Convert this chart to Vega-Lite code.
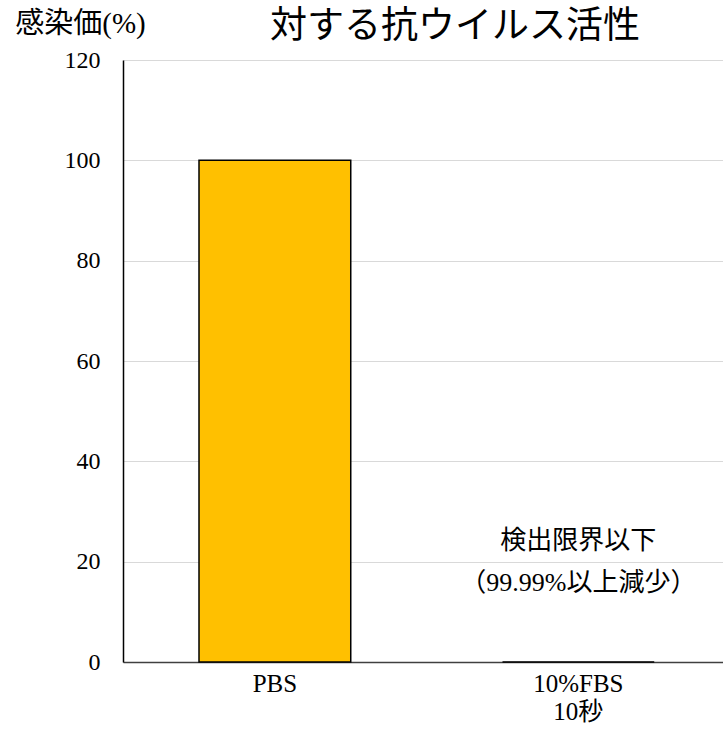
{
  "$schema": "https://vega.github.io/schema/vega-lite/v6.json",
  "autosize": {"type": "none"},
  "width": 600,
  "height": 602,
  "padding": {"left": 123, "top": 60, "right": 0, "bottom": 76},
  "background": "white",
  "config": {
    "view": {"stroke": null},
    "font": "Liberation Serif, Noto Sans CJK JP"
  },
  "title": {
    "text": "対する抗ウイルス活性",
    "font": "Noto Sans CJK JP",
    "fontSize": 37,
    "fontWeight": "normal",
    "color": "#000000",
    "anchor": "middle",
    "frame": "group",
    "baseline": "bottom",
    "dx": 32,
    "dy": 74,
    "offset": 0
  },
  "data": {
    "values": [
      {"group": "PBS", "value": 100, "note": null},
      {"group": "10%FBS|10秒", "value": 0, "note": ["検出限界以下", "（99.99%以上減少）"]}
    ]
  },
  "layer": [
    {
      "mark": {"type": "bar", "color": "#FFC000", "stroke": "#000000", "strokeWidth": 1.5},
      "encoding": {
        "x": {
          "field": "group",
          "type": "nominal",
          "sort": null,
          "scale": {"paddingInner": 0.5, "paddingOuter": 0.2385, "align": 0.525},
          "axis": {
            "title": null,
            "labelAngle": 0,
            "labelExpr": "split(datum.label, '|')",
            "labelFont": "Liberation Serif, Noto Sans CJK JP",
            "labelFontSize": 25,
            "labelColor": "#000000",
            "labelLineHeight": 28,
            "labelPadding": 9,
            "labelBaseline": "top",
            "ticks": false,
            "domainColor": "#404040",
            "domainWidth": 1.5
          }
        },
        "y": {
          "field": "value",
          "type": "quantitative",
          "scale": {"domain": [0, 120]},
          "axis": {
            "values": [0, 20, 40, 60, 80, 100, 120],
            "title": "感染価(%)",
            "titleAngle": 0,
            "titleAlign": "center",
            "titleBaseline": "middle",
            "titleX": -43,
            "titleY": -37,
            "titleFont": "Liberation Serif, Noto Sans CJK JP",
            "titleFontSize": 29,
            "titleFontWeight": "normal",
            "titleColor": "#000000",
            "labelFont": "Liberation Serif",
            "labelFontSize": 24,
            "labelColor": "#000000",
            "labelPadding": 23,
            "ticks": false,
            "domainColor": "#000000",
            "domainWidth": 1.5,
            "gridColor": "#d9d9d9",
            "gridWidth": 1
          }
        }
      }
    },
    {
      "transform": [{"filter": "datum.note != null"}],
      "mark": {
        "type": "text",
        "font": "Liberation Serif, Noto Sans CJK JP",
        "fontSize": 26,
        "color": "#000000",
        "baseline": "middle",
        "align": "center",
        "lineHeight": 42
      },
      "encoding": {
        "x": {"field": "group", "type": "nominal", "sort": null},
        "y": {"datum": 24.2, "type": "quantitative"},
        "text": {"field": "note", "type": "nominal"}
      }
    }
  ]
}
